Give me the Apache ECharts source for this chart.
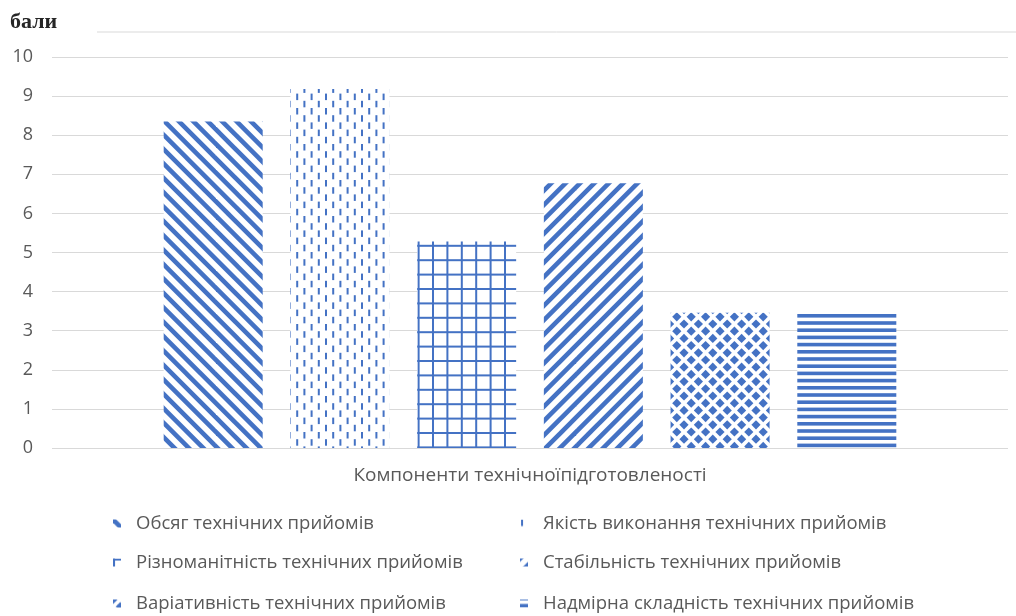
<!DOCTYPE html>
<html>
<head>
<meta charset="utf-8">
<script src="https://cdn.jsdelivr.net/npm/echarts@6/dist/echarts.min.js"></script>
<style>
  html, body { margin: 0; padding: 0; background: #fff; }
  #chart { width: 1016px; height: 616px; }
</style>
</head>
<body>
<div id="chart"></div>
<script>
// Components of technical preparedness, scores
const categories = ['Компоненти технічноїпідготовленості'];
const seriesNames = [
  'Обсяг технічних прийомів',
  'Якість виконання технічних прийомів',
  'Різноманітність технічних прийомів',
  'Стабільність технічних прийомів',
  'Варіативність технічних прийомів',
  'Надмірна складність технічних прийомів'
];
const seriesValues = [8.35, 9.18, 5.28, 6.77, 3.46, 3.43];
const yTicks = [0, 1, 2, 3, 4, 5, 6, 7, 8, 9, 10];

const BLUE = '#4472C4';
const TEXT = '#595959';
const FONT = '"Open Sans", "Noto Sans", sans-serif';

// 72px tile = 5 periods of 14.4px
function tile(draw) {
  const c = document.createElement('canvas');
  c.width = 72; c.height = 72;
  const ctx = c.getContext('2d');
  ctx.fillStyle = '#ffffff';
  ctx.fillRect(0, 0, 72, 72);
  ctx.fillStyle = BLUE;
  ctx.strokeStyle = BLUE;
  draw(ctx);
  return { image: c, repeat: 'repeat' };
}
const P = 14.4;

const patterns = [
  // wide downward diagonal
  tile(ctx => {
    ctx.lineWidth = 4.6;
    for (let k = -6; k <= 6; k++) {
      ctx.beginPath();
      ctx.moveTo(k * P - 10, -10);
      ctx.lineTo(k * P + 82, 82);
      ctx.stroke();
    }
  }),
  // dashed vertical
  tile(ctx => {
    for (let c = 0; c < 10; c++) {
      const off = (c % 2) * (P / 2);
      for (let j = -1; j <= 5; j++) {
        ctx.fillRect(c * P / 2 + 1, off + j * P, 2, 6.5);
      }
    }
  }),
  // large grid
  tile(ctx => {
    for (let k = 0; k < 5; k++) {
      ctx.fillRect(k * P, 0, 2, 72);
      ctx.fillRect(0, k * P, 72, 2);
    }
  }),
  // wide upward diagonal
  tile(ctx => {
    ctx.lineWidth = 4.6;
    for (let k = -6; k <= 6; k++) {
      ctx.beginPath();
      ctx.moveTo(k * P - 10, 82);
      ctx.lineTo(k * P + 82, -10);
      ctx.stroke();
    }
  }),
  // solid diamond
  tile(ctx => {
    const h = 4.6;
    for (let i = -1; i <= 6; i++) {
      for (let j = -1; j <= 6; j++) {
        [[i * P, j * P], [i * P + P / 2, j * P + P / 2]].forEach(([x, y]) => {
          ctx.beginPath();
          ctx.moveTo(x, y - h);
          ctx.lineTo(x + h, y);
          ctx.lineTo(x, y + h);
          ctx.lineTo(x - h, y);
          ctx.closePath();
          ctx.fill();
        });
      }
    }
  }),
  // horizontal lines
  tile(ctx => {
    for (let k = -1; k < 10; k++) {
      ctx.fillRect(0, 4.4 + k * P / 2, 72, 3.6);
    }
  })
];

const chart = echarts.init(document.getElementById('chart'), null, { renderer: 'canvas' });

const series = seriesNames.map((name, i) => ({
  name: name,
  type: 'bar',
  data: [seriesValues[i]],
  barWidth: 99,
  barGap: '28%',
  itemStyle: { color: patterns[i] },
  emphasis: { disabled: true }
}));

// two columns, three rows of legend entries
const legendCols = [113, 520];
const legendRows = [527, 566, 607];
const legends = seriesNames.map((name, i) => ({
  data: [name],
  left: legendCols[i % 2],
  top: legendRows[Math.floor(i / 2)] - 13,
  itemWidth: 8,
  itemHeight: 8,
  icon: 'rect',
  selectedMode: false,
  padding: 0,
  textStyle: { color: TEXT, fontSize: 18.5, fontFamily: FONT, padding: [0, 0, 0, 10] }
}));

chart.setOption({
  animation: false,
  backgroundColor: '#ffffff',
  title: {
    text: 'бали',
    left: 10,
    top: 11,
    padding: 0,
    textStyle: { fontFamily: '"Liberation Serif", serif', fontWeight: 'bold', fontSize: 22, color: '#262626' }
  },
  grid: { left: 52, right: 8, top: 57, bottom: 168, containLabel: false },
  xAxis: {
    type: 'category',
    data: categories,
    axisLine: { show: false },
    axisTick: { show: false },
    axisLabel: { show: false },
    name: categories[0],
    nameLocation: 'middle',
    nameGap: 18,
    nameTextStyle: { color: TEXT, fontSize: 19, fontFamily: FONT }
  },
  yAxis: {
    type: 'value',
    min: yTicks[0],
    max: yTicks[yTicks.length - 1],
    interval: 1,
    axisLine: { show: false },
    axisTick: { show: false },
    axisLabel: { color: TEXT, fontSize: 18, fontFamily: FONT, margin: 19 },
    splitLine: { lineStyle: { color: '#d9d9d9', width: 1 } }
  },
  legend: legends,
  graphic: [{
    type: 'line',
    shape: { x1: 97, y1: 32, x2: 1016, y2: 32 },
    style: { stroke: '#d9d9d9', lineWidth: 1 },
    silent: true
  }],
  series: series
});
</script>
</body>
</html>
